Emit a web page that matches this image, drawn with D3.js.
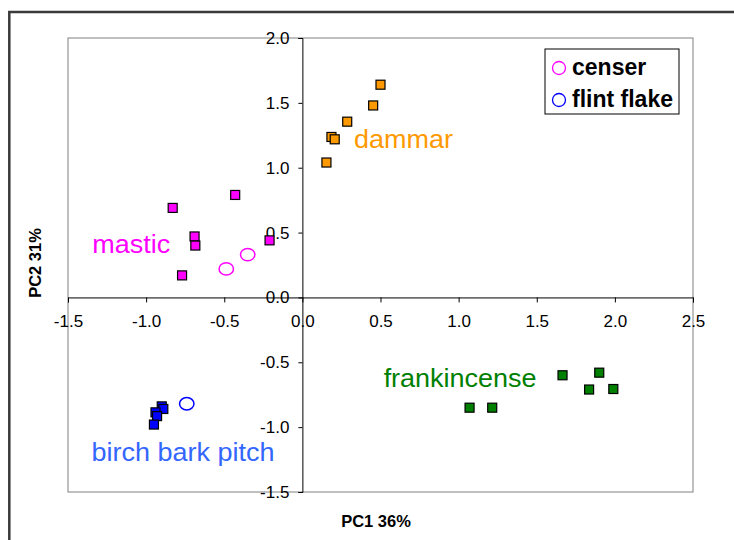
<!DOCTYPE html>
<html>
<head>
<meta charset="utf-8">
<script src="https://cdn.jsdelivr.net/npm/d3@7"></script>
<style>
    body { margin: 0; background: #fff; }
    text { font-family: Arial, "Liberation Sans", sans-serif; }
</style>
</head>
<body>
<div id="chart"></div>
<script>
// PCA scores
let mastic = [[-0.83, 0.69], [-0.43, 0.79], [-0.69, 0.47], [-0.685, 0.40], [-0.77, 0.17], [-0.21, 0.44]]
let dammar = [[0.50, 1.64], [0.453, 1.48], [0.287, 1.355], [0.186, 1.237], [0.207, 1.219], [0.154, 1.04]]
let frankincense = [[1.665, -0.60], [1.90, -0.58], [1.835, -0.71], [1.99, -0.706], [1.07, -0.85], [1.215, -0.85]]
let birchBark = [[-0.90, -0.84], [-0.89, -0.86], [-0.94, -0.886], [-0.93, -0.915], [-0.95, -0.98]]
let censer = [[-0.487, 0.22], [-0.35, 0.33]]
let flintFlake = [[-0.74, -0.82]]

let xTicks = [-1.5, -1.0, -0.5, 0.0, 0.5, 1.0, 1.5, 2.0, 2.5]
let yTicks = [-1.5, -1.0, -0.5, 0.0, 0.5, 1.0, 1.5, 2.0]

let groupNames = ["mastic", "dammar", "frankincense", "birch bark pitch"]
let legendNames = ["censer", "flint flake"]

let width = 734, height = 540
let margin = {top: 38, right: 41, bottom: 48, left: 68}

let svg = d3.select("#chart").append("svg")
    .attr("width", width)
    .attr("height", height)

// outer chart frame (runs off the right/bottom edge)
svg.append("rect")
    .attr("x", 9.3).attr("y", 12)
    .attr("width", 800).attr("height", 600)
    .attr("fill", "none")
    .attr("stroke", "#3a3a3a")
    .attr("stroke-width", 2.5)

let x = d3.scaleLinear().domain([-1.5, 2.5]).range([margin.left, width - margin.right])
let y = d3.scaleLinear().domain([-1.5, 2.0]).range([height - margin.bottom, margin.top])

// plot area border
svg.append("rect")
    .attr("x", x(-1.5)).attr("y", y(2.0))
    .attr("width", x(2.5) - x(-1.5)).attr("height", y(-1.5) - y(2.0))
    .attr("fill", "none")
    .attr("stroke", "#808080")

// excel style: plain hyphen minus
let fmt = d => d3.format(".1f")(d).replace("\u2212", "-")

let xAxis = svg.append("g")
    .attr("transform", `translate(0,${y(0)})`)
    .call(d3.axisBottom(x).tickValues(xTicks).tickFormat(fmt).tickSizeOuter(0).tickSize(5).tickPadding(13))
let yAxis = svg.append("g")
    .attr("transform", `translate(${x(0)},0)`)
    .call(d3.axisLeft(y).tickValues(yTicks).tickFormat(fmt).tickSizeOuter(0).tickSize(4).tickPadding(9))

svg.selectAll(".domain").attr("stroke", "#000")
svg.selectAll(".tick line").attr("stroke", "#000")
svg.selectAll(".tick text")
    .attr("fill", "#000")
    .style("font-size", "17px")
    .style("font-family", "Arial, 'Liberation Sans', sans-serif")

// axis titles
svg.append("text")
    .attr("x", 376).attr("y", 527)
    .attr("text-anchor", "middle")
    .style("font-size", "16.5px").style("font-weight", "bold")
    .text("PC1 36%")
svg.append("text")
    .attr("transform", `translate(41,263) rotate(-90)`)
    .attr("text-anchor", "middle")
    .style("font-size", "16.5px").style("font-weight", "bold")
    .text("PC2 31%")

let groups = [
    {name: groupNames[0], pts: mastic, color: "#ff00ff", label: [-1.345, 0.34], labelColor: "#ff00ff"},
    {name: groupNames[1], pts: dammar, color: "#ff9900", label: [0.33, 1.15], labelColor: "#ff9900"},
    {name: groupNames[2], pts: frankincense, color: "#008000", label: [0.52, -0.69], labelColor: "#008000"},
    {name: groupNames[3], pts: birchBark, color: "#0000ff", label: [-1.35, -1.26], labelColor: "#3366ff"}
]

let sq = 9
groups.forEach(g => {
    svg.append("g").selectAll("rect")
        .data(g.pts)
        .enter().append("rect")
        .attr("x", d => x(d[0]) - sq / 2)
        .attr("y", d => y(d[1]) - sq / 2)
        .attr("width", sq).attr("height", sq)
        .attr("fill", g.color)
        .attr("stroke", "#000")
        .attr("stroke-width", 1.2)

    // labels in the reference are a little wider than plain Arial
    svg.append("text")
        .attr("transform", `translate(${x(g.label[0])},${y(g.label[1])}) scale(1.08,1)`)
        .attr("fill", g.labelColor)
        .style("font-size", "25px")
        .text(g.name)
})

let circles = [
    {pts: censer, color: "#ff00ff"},
    {pts: flintFlake, color: "#0000ff"}
]
circles.forEach(c => {
    svg.append("g").selectAll("ellipse")
        .data(c.pts)
        .enter().append("ellipse")
        .attr("cx", d => x(d[0]))
        .attr("cy", d => y(d[1]))
        .attr("rx", 7.2).attr("ry", 6.2)
        .attr("fill", "none")
        .attr("stroke", c.color)
        .attr("stroke-width", 1.5)
})

// legend
let legend = svg.append("g").attr("transform", "translate(545,49)")
legend.append("rect")
    .attr("width", 134).attr("height", 65)
    .attr("fill", "#fff")
    .attr("stroke", "#000")
legend.selectAll("ellipse")
    .data(legendNames)
    .enter().append("ellipse")
    .attr("cx", 14)
    .attr("cy", (d, i) => 19 + i * 32)
    .attr("rx", 6.5).attr("ry", 6.5)
    .attr("fill", "none")
    .attr("stroke", (d, i) => circles[i].color)
    .attr("stroke-width", 1.3)
legend.selectAll("text")
    .data(legendNames)
    .enter().append("text")
    .attr("x", 27)
    .attr("y", (d, i) => 26 + i * 32)
    .style("font-size", "23px").style("font-weight", "bold")
    .text(d => d)
</script>
</body>
</html>
